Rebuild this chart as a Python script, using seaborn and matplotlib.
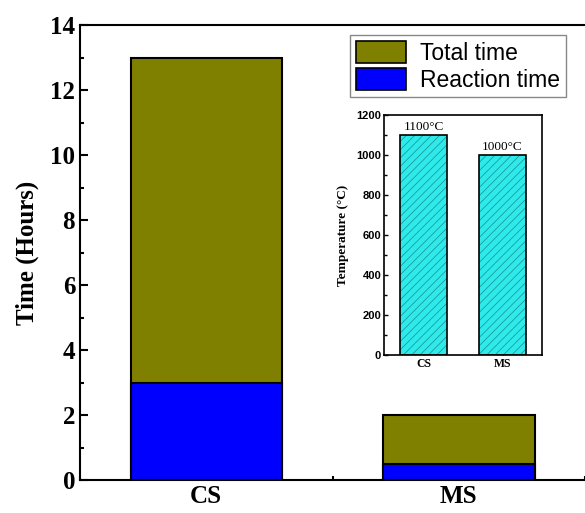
import pandas as pd
import matplotlib.pyplot as plt
import seaborn as sns
from matplotlib.patches import Patch
from matplotlib.ticker import MultipleLocator

# Datos del gráfico
metodos = ["CS", "MS"]
tiempo_total = [13, 2]
tiempo_reaccion = [3, 0.5]
temperaturas = [1100, 1000]
etiquetas_temp = ["1100°C", "1000°C"]

df = pd.DataFrame({"metodo": metodos, "total": tiempo_total,
                   "reaccion": tiempo_reaccion, "temp": temperaturas})

sns.set_style("ticks")
plt.rcParams["font.family"] = ["Liberation Serif", "DejaVu Serif"]
plt.rcParams["hatch.linewidth"] = 0.5
for k in ["text.color", "axes.labelcolor", "xtick.color", "ytick.color", "axes.edgecolor"]:
    plt.rcParams[k] = "black"

fig = plt.figure(figsize=(5.85, 5.13), dpi=100)
ax = fig.add_axes([80 / 585, 1 - 480 / 513, 505 / 585, 455 / 513])

# Barras apiladas: total detrás, reacción delante
sns.barplot(data=df, x="metodo", y="total", order=metodos, color="#808000",
            width=0.6, edgecolor="black", linewidth=1.5, saturation=1, ax=ax)
sns.barplot(data=df, x="metodo", y="reaccion", order=metodos, color="#0000FF",
            width=0.6, edgecolor="black", linewidth=1.5, saturation=1, ax=ax)

ax.set_xlim(-0.5, 1.5)
ax.set_ylim(0, 14)
ax.yaxis.set_major_locator(MultipleLocator(2))
ax.yaxis.set_minor_locator(MultipleLocator(1))
ax.xaxis.set_minor_locator(MultipleLocator(0.5))
ax.tick_params(direction="in", which="both", width=1.5)
ax.tick_params(which="major", length=6)
ax.tick_params(which="minor", length=3)
ax.tick_params(axis="x", which="minor", top=False)
ax.tick_params(labelsize=18)
for lbl in ax.get_xticklabels() + ax.get_yticklabels():
    lbl.set_fontweight("bold")
for s in ax.spines.values():
    s.set_linewidth(1.5)
ax.spines["right"].set_visible(False)
ax.set_xlabel("")
ax.set_ylabel("Time (Hours)", fontsize=18, fontweight="bold", labelpad=8)

handles = [Patch(facecolor="#808000", edgecolor="black", linewidth=1.2, label="Total time"),
           Patch(facecolor="#0000FF", edgecolor="black", linewidth=1.2, label="Reaction time")]
leg = ax.legend(handles=handles, loc="upper left", bbox_to_anchor=(270 / 505, 1 - 10 / 455),
                prop={"family": "Liberation Sans", "size": 16.5}, fancybox=False,
                framealpha=1, edgecolor="#888888", handlelength=2.2, handleheight=1.15,
                borderpad=0.25, labelspacing=0.12, handletextpad=0.6, borderaxespad=0)

# Gráfico insertado de temperaturas
ins = fig.add_axes([384 / 585, 1 - 355 / 513, 158 / 585, 240 / 513])
sns.barplot(data=df, x="metodo", y="temp", order=metodos, color="#2EEAEA",
            width=0.6, edgecolor="#1A8F8F", linewidth=0, saturation=1, ax=ins)
for p in ins.patches:
    p.set_hatch("////")
# contorno negro encima
sns.barplot(data=df, x="metodo", y="temp", order=metodos, color="black",
            width=0.6, fill=False, linewidth=1.2, ax=ins)
for i, t in enumerate(etiquetas_temp):
    ins.text(i, temperaturas[i] + 10, t, ha="center", va="bottom", fontsize=9.5)
ins.set_xlim(-0.5, 1.5)
ins.set_ylim(0, 1200)
ins.yaxis.set_major_locator(MultipleLocator(200))
ins.yaxis.set_minor_locator(MultipleLocator(100))
ins.tick_params(direction="in", which="both", width=1)
ins.tick_params(which="major", length=3)
ins.tick_params(which="minor", length=2)
ins.tick_params(labelsize=8, pad=2)
for lbl in ins.get_yticklabels():
    lbl.set_family("Liberation Sans")
    lbl.set_fontweight("bold")
for lbl in ins.get_xticklabels():
    lbl.set_fontweight("bold")
    lbl.set_fontsize(8.5)
for s in ins.spines.values():
    s.set_linewidth(1.2)
ins.set_xlabel("")
ins.set_ylabel("Temperature (°C)", fontsize=9.5, fontweight="bold", labelpad=5)

fig.savefig("out.png", dpi=100)
